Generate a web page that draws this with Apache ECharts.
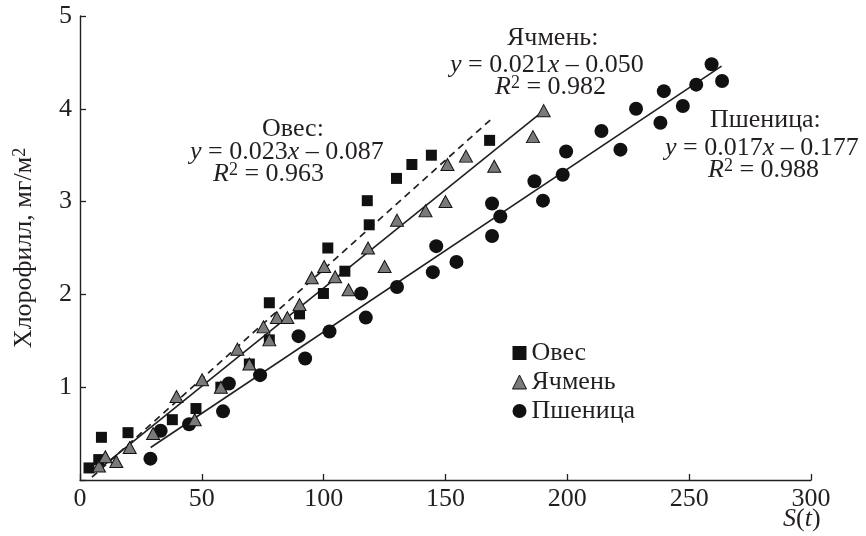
<!DOCTYPE html>
<html>
<head>
<meta charset="utf-8">
<script src="https://cdn.jsdelivr.net/npm/echarts@6/dist/echarts.min.js"></script>
<style>
html,body{margin:0;padding:0;background:#fff;}
#chart{width:866px;height:536px;}
</style>
</head>
<body>
<div id="chart"></div>
<script>
// ---- data ----
const xTicks = [0, 50, 100, 150, 200, 250, 300];
const yTicks = [1, 2, 3, 4, 5];

const oatsS   = [3.7, 7.7, 8.8, 19.7, 37.9, 47.6, 57.8, 69.5, 77.7, 77.7, 90.1, 99.9, 101.7, 108.7, 117.9, 118.7, 129.9, 136.2, 144.2, 168.1];
const oatsChl = [0.13, 0.22, 0.46, 0.51, 0.65, 0.77, 1.00, 1.25, 1.51, 1.91, 1.79, 2.01, 2.50, 2.25, 3.01, 2.75, 3.25, 3.40, 3.50, 3.66];

const barleyS   = [7.8, 10.4, 14.9, 20.4, 30.0, 39.6, 47.1, 50.1, 57.8, 64.6, 69.5, 75.3, 77.7, 80.8, 85.1, 90.1, 95.1, 100.2, 104.7, 110.2, 118.2, 125.0, 130.1, 141.8, 150.0, 150.8, 158.4, 170.0, 185.9, 190.3];
const barleyChl = [0.15, 0.25, 0.20, 0.35, 0.50, 0.90, 0.65, 1.08, 1.00, 1.41, 1.25, 1.65, 1.51, 1.75, 1.75, 1.89, 2.18, 2.30, 2.19, 2.05, 2.50, 2.30, 2.80, 2.90, 3.00, 3.40, 3.49, 3.38, 3.70, 3.98];

const wheatS   = [28.9, 33.1, 44.8, 58.7, 61.1, 73.9, 89.7, 92.4, 102.4, 115.4, 117.3, 130.1, 144.8, 146.2, 154.5, 169.1, 169.1, 172.5, 186.5, 190.0, 198.1, 199.5, 214.0, 221.8, 228.2, 238.2, 239.6, 247.4, 252.9, 259.2, 263.5];
const wheatChl = [0.23, 0.53, 0.60, 0.74, 1.04, 1.13, 1.55, 1.31, 1.60, 2.01, 1.75, 2.08, 2.24, 2.52, 2.35, 2.98, 2.63, 2.84, 3.22, 3.01, 3.29, 3.54, 3.76, 3.56, 4.00, 3.85, 4.19, 4.03, 4.26, 4.48, 4.30];

// fitted lines (end points as drawn)
const oatsFitS = [4.9, 168.4],   oatsFitChl = [0.03, 3.88];
const barleyFitS = [6.5, 190.3], barleyFitChl = [0.09, 3.98];
const wheatFitS = [29.0, 263.3], wheatFitChl = [0.35, 4.46];

const seriesNames = ['Овес', 'Ячмень', 'Пшеница'];
const eqTitles = ['Овес:', 'Ячмень:', 'Пшеница:'];
const eqSlopes = ['0.023', '0.021', '0.017'];
const eqIntercepts = ['0.087', '0.050', '0.177'];
const eqR2 = ['0.963', '0.982', '0.988'];

// ---- rendering ----
const FONT = '"Liberation Serif", "Times New Roman", "DejaVu Serif", serif';
const INK = '#231f20';
const FS = 26;
const zip = (a, b) => a.map((v, i) => [v, b[i]]);

const chart = echarts.init(document.getElementById('chart'), null, {renderer: 'canvas'});

const rich = {
  i: {fontFamily: FONT, fontSize: FS, fontStyle: 'italic', fill: INK, color: INK},
  n: {fontFamily: FONT, fontSize: FS, color: INK},
  s: {fontFamily: FONT, fontSize: 18, color: INK, verticalAlign: 'top', padding: [0, 0, 8, 0]}
};

function block(k, l0, l1, l2, t0, t1, t2) {
  return [
    {type: 'text', left: l0, top: t0, style: {text: eqTitles[k], font: FS + 'px ' + FONT, fill: INK}},
    {type: 'text', left: l1, top: t1, style: {text: '{i|y}{n| = ' + eqSlopes[k] + '}{i|x}{n| – ' + eqIntercepts[k] + '}', rich: rich, fill: INK}},
    {type: 'text', left: l2, top: t2, style: {text: '{i|R}{s|2}{n| = ' + eqR2[k] + '}', rich: rich, fill: INK}}
  ];
}

const option = {
  animation: false,
  backgroundColor: '#ffffff',
  grid: {left: 80, right: 55, top: 16, bottom: 56, containLabel: false},
  xAxis: {
    type: 'value', min: 0, max: 300, interval: 50,
    axisLine: {lineStyle: {color: INK, width: 1.4}},
    axisTick: {inside: true, length: 6, lineStyle: {color: INK, width: 1.3}},
    splitLine: {show: false},
    axisLabel: {color: INK, fontFamily: FONT, fontSize: FS, margin: 6,
      formatter: v => xTicks.includes(v) ? String(v) : ''}
  },
  yAxis: {
    type: 'value', min: 0, max: 5, interval: 1,
    name: '{n|Хлорофилл, мг/м}{s|2}',
    nameLocation: 'middle', nameGap: 43,
    nameTextStyle: {rich: rich, color: INK, fontFamily: FONT, fontSize: FS},
    axisLine: {lineStyle: {color: INK, width: 1.4}},
    axisTick: {inside: true, length: 6, lineStyle: {color: INK, width: 1.3}},
    splitLine: {show: false},
    axisLabel: {color: INK, fontFamily: FONT, fontSize: FS, margin: 8,
      formatter: v => yTicks.includes(v) ? String(v) : ''}
  },
  legend: {
    orient: 'vertical', left: 507, top: 335,
    itemWidth: 14, itemHeight: 14, itemGap: 3,
    textStyle: {color: INK, fontFamily: FONT, fontSize: FS},
    data: [
      {name: seriesNames[0], icon: 'rect', itemStyle: {color: '#111', borderWidth: 0}},
      {name: seriesNames[1], icon: 'triangle', itemStyle: {color: '#7a7a7a', borderColor: '#111', borderWidth: 1}},
      {name: seriesNames[2], icon: 'circle', itemStyle: {color: '#111', borderWidth: 0}}
    ]
  },
  graphic: [
    ...block(0, 262, 190, 213, 116, 139, 161),
    ...block(1, 507, 450, 495, 25, 52, 74),
    ...block(2, 710, 665, 708, 107, 135, 157),
    {type: 'text', left: 783, top: 506, style: {text: '{i|S}{n|(}{i|t}{n|)}', rich: rich, fill: INK}}
  ],
  series: [
    {name: 'fitOats', type: 'line', data: zip(oatsFitS, oatsFitChl), symbol: 'none', silent: true,
      lineStyle: {color: INK, width: 1.7, type: [7, 5]}, z: 1},
    {name: 'fitBarley', type: 'line', data: zip(barleyFitS, barleyFitChl), symbol: 'none', silent: true,
      lineStyle: {color: INK, width: 1.6}, z: 1},
    {name: 'fitWheat', type: 'line', data: zip(wheatFitS, wheatFitChl), symbol: 'none', silent: true,
      lineStyle: {color: INK, width: 1.6}, z: 1},
    {name: seriesNames[0], type: 'scatter', data: zip(oatsS, oatsChl), symbol: 'rect', symbolSize: 11,
      itemStyle: {color: '#111', opacity: 1}, z: 3},
    {name: seriesNames[1], type: 'scatter', data: zip(barleyS, barleyChl), symbol: 'triangle', symbolSize: [13, 12],
      itemStyle: {color: '#7a7a7a', borderColor: '#111', borderWidth: 1, opacity: 1}, z: 4},
    {name: seriesNames[2], type: 'scatter', data: zip(wheatS, wheatChl), symbol: 'circle', symbolSize: 14,
      itemStyle: {color: '#111', opacity: 1}, z: 3}
  ]
};
chart.setOption(option);
</script>
</body>
</html>
